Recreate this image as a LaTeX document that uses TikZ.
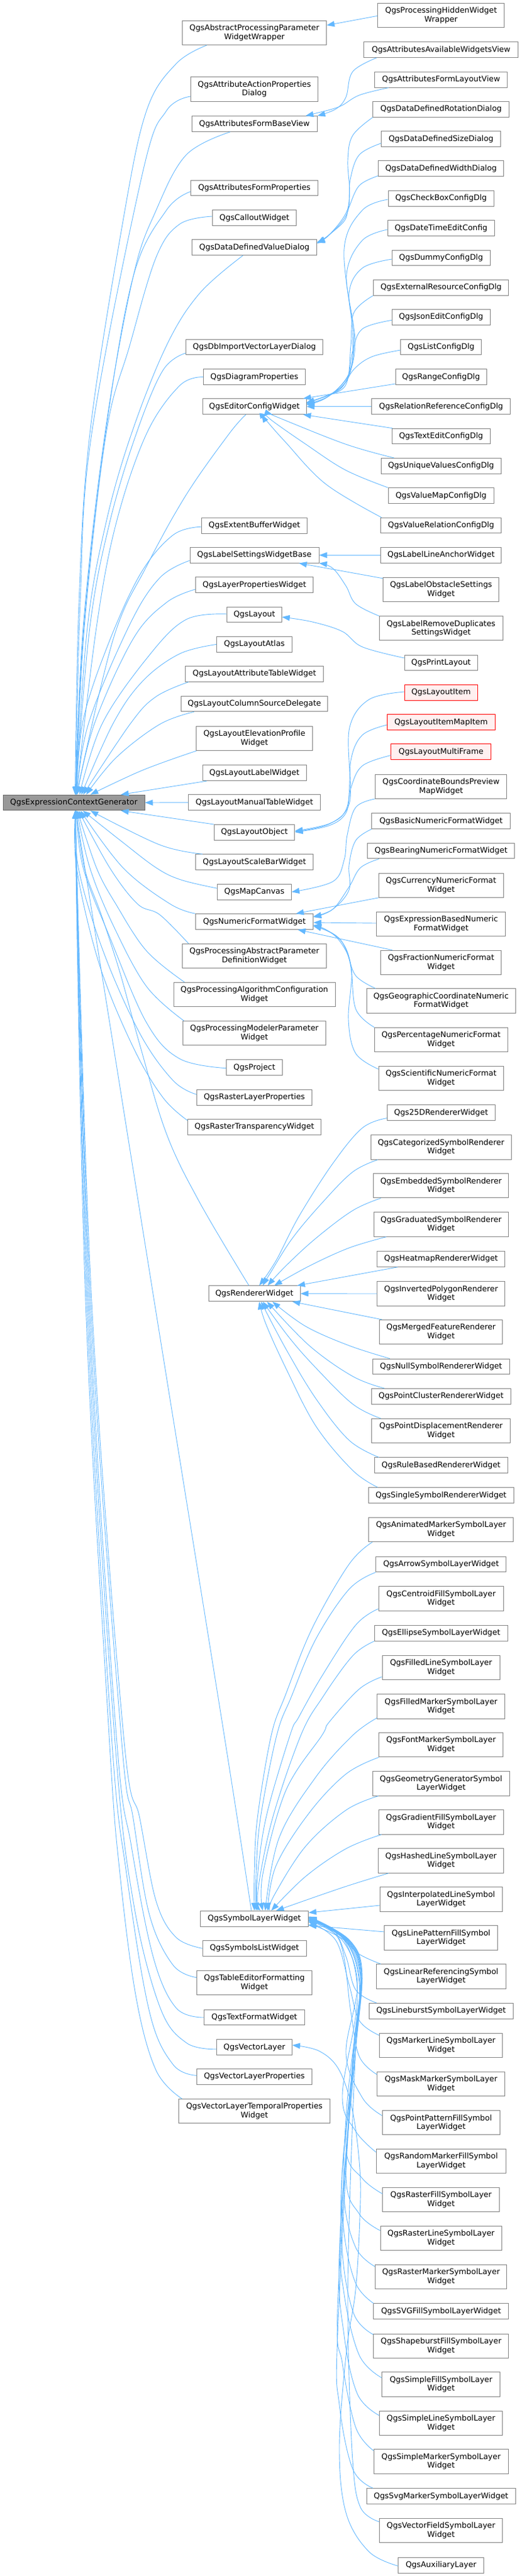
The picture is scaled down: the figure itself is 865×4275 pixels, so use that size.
\documentclass[tikz,border=0pt]{standalone}
\usepackage{fontspec}
\setmainfont{DejaVu Sans}
\usetikzlibrary{arrows.meta}
\definecolor{lnkc}{HTML}{63B8FF}
\definecolor{brd}{HTML}{808080}
\tikzset{
  bx/.style={draw=brd,line width=1pt,fill=white,rectangle,inner sep=0pt,align=center,font=\fontsize{12.9}{14.7}\selectfont},
  sgl/.style={bx,minimum height=25.7pt},
  dbl/.style={bx,minimum height=40.3pt},
  lnk/.style={draw=lnkc,line width=0.9pt,-{Triangle[length=13pt,width=9.5pt,fill=lnkc]}},
}
\newcommand{\Ms}[4]{\node[sgl,minimum width=#3pt] (#1) at (422,#2) {#4};}
\newcommand{\Md}[4]{\node[dbl,minimum width=#3pt] (#1) at (422,#2) {#4};}
\newcommand{\Rs}[4]{\node[sgl,minimum width=#3pt] (#1) at (731.7,#2) {#4};}
\newcommand{\Rd}[4]{\node[dbl,minimum width=#3pt] (#1) at (731.7,#2) {#4};}
\newcommand{\Ed}[1]{\draw[lnk] plot[smooth,tension=0.6] coordinates {#1};}
\begin{document}
\begin{tikzpicture}[x=1pt,y=-1pt]
\path[use as bounding box,fill=white] (0,0) rectangle (865,4275);
\node[sgl,draw=black!60,fill=black!40,minimum width=235pt] (root) at (122.5,1332) {QgsExpressionContextGenerator};
% middle column
\Md{abs}{54.4}{239}{QgsAbstractProcessingParameter\\WidgetWrapper}
\Md{act}{148}{211}{QgsAttributeActionProperties\\Dialog}
\Ms{fbv}{205.5}{208}{QgsAttributesFormBaseView}
\Ms{fpr}{312}{211}{QgsAttributesFormProperties}
\Ms{cal}{361.6}{139}{QgsCalloutWidget}
\Ms{ddv}{410.7}{207}{QgsDataDefinedValueDialog}
\Ms{dbi}{576}{227}{QgsDbImportVectorLayerDialog}
\Ms{dia}{625.6}{169}{QgsDiagramProperties}
\Ms{edc}{674.7}{172}{QgsEditorConfigWidget}
\Ms{ext}{872.2}{175}{QgsExtentBufferWidget}
\Ms{lab}{921.3}{214}{QgsLabelSettingsWidgetBase}
\Ms{lpw}{970.5}{195}{QgsLayerPropertiesWidget}
\Ms{lay}{1020}{90.5}{QgsLayout}
\Ms{atl}{1069.4}{124.7}{QgsLayoutAtlas}
\Ms{att}{1118.3}{228.4}{QgsLayoutAttributeTableWidget}
\Ms{col}{1167.9}{243.8}{QgsLayoutColumnSourceDelegate}
\Md{ele}{1225.3}{193.6}{QgsLayoutElevationProfile\\Widget}
\Ms{llw}{1282.7}{172}{QgsLayoutLabelWidget}
\Ms{man}{1331.8}{218.4}{QgsLayoutManualTableWidget}
\Ms{obj}{1381.4}{133.5}{QgsLayoutObject}
\Ms{sca}{1430.6}{195}{QgsLayoutScaleBarWidget}
\Ms{can}{1480.2}{122.5}{QgsMapCanvas}
\Ms{num}{1529.5}{195}{QgsNumericFormatWidget}
\Md{pab}{1586.7}{239}{QgsProcessingAbstractParameter\\DefinitionWidget}
\Md{pal}{1650.5}{268}{QgsProcessingAlgorithmConfiguration\\Widget}
\Md{pmo}{1714.6}{237.7}{QgsProcessingModelerParameter\\Widget}
\Ms{prj}{1771.7}{92.7}{QgsProject}
\Ms{rlp}{1821.3}{190.8}{QgsRasterLayerProperties}
\Ms{rtw}{1870.4}{221}{QgsRasterTransparencyWidget}
\Ms{ren}{2146.8}{152}{QgsRendererWidget}
\Ms{sym}{3184.2}{178.7}{QgsSymbolLayerWidget}
\Ms{sls}{3233.3}{172}{QgsSymbolsListWidget}
\Md{tef}{3290.7}{190.8}{QgsTableEditorFormatting\\Widget}
\Ms{tfw}{3348}{166.6}{QgsTextFormatWidget}
\Ms{vly}{3397.7}{124.7}{QgsVectorLayer}
\Ms{vlp}{3446.3}{190.8}{QgsVectorLayerProperties}
\Md{vlt}{3503.7}{250.4}{QgsVectorLayerTemporalProperties\\Widget}
% right column
\Rd{phw}{25.3}{210}{QgsProcessingHiddenWidget\\Wrapper}
\Rs{aav}{82.6}{256}{QgsAttributesAvailableWidgetsView}
\Rs{afl}{132.2}{219.5}{QgsAttributesFormLayoutView}
\Rs{ddr}{181.4}{225.6}{QgsDataDefinedRotationDialog}
\Rs{dds}{230.7}{197.5}{QgsDataDefinedSizeDialog}
\Rs{ddw}{279.8}{208}{QgsDataDefinedWidthDialog}
\Rs{chk}{329.4}{175}{QgsCheckBoxConfigDlg}
\Rs{dte}{378.6}{177}{QgsDateTimeEditConfig}
\Rs{dum}{428.1}{163}{QgsDummyConfigDlg}
\Rs{exr}{477.3}{224.5}{QgsExternalResourceConfigDlg}
\Rs{jsn}{526.4}{163}{QgsJsonEditConfigDlg}
\Rs{lst}{576}{133.5}{QgsListConfigDlg}
\Rs{rng}{625.6}{151}{QgsRangeConfigDlg}
\Rs{rel}{674.7}{230}{QgsRelationReferenceConfigDlg}
\Rs{txt}{724}{163}{QgsTextEditConfigDlg}
\Rs{unq}{773.3}{198.6}{QgsUniqueValuesConfigDlg}
\Rs{vmp}{822.6}{175}{QgsValueMapConfigDlg}
\Rs{vrl}{872}{199.7}{QgsValueRelationConfigDlg}
\Rs{lla}{921.3}{199.7}{QgsLabelLineAnchorWidget}
\Rd{los}{978.5}{192}{QgsLabelObstacleSettings\\Widget}
\Rd{lrd}{1042.8}{205}{QgsLabelRemoveDuplicates\\SettingsWidget}
\Rs{prl}{1100}{121}{QgsPrintLayout}
\node[sgl,draw=red,fill=red!6,minimum width=121pt] (itm) at (731.7,1149.5) {QgsLayoutItem};
\node[sgl,draw=red,fill=red!6,minimum width=178.7pt] (imi) at (731.7,1198.6) {QgsLayoutItemMapItem};
\node[sgl,draw=red,fill=red!6,minimum width=165.5pt] (mfr) at (731.7,1247.8) {QgsLayoutMultiFrame};
\Rd{cbp}{1305.2}{218.4}{QgsCoordinateBoundsPreview\\MapWidget}
\Rs{bas}{1362.6}{229.5}{QgsBasicNumericFormatWidget}
\Rs{bea}{1412.1}{244}{QgsBearingNumericFormatWidget}
\Rd{cur}{1469.2}{207}{QgsCurrencyNumericFormat\\Widget}
\Rd{exb}{1533.4}{214}{QgsExpressionBasedNumeric\\FormatWidget}
\Rd{fra}{1597.3}{199.7}{QgsFractionNumericFormat\\Widget}
\Rd{geo}{1661}{247}{QgsGeographicCoordinateNumeric\\FormatWidget}
\Rd{pct}{1725.4}{220.6}{QgsPercentageNumericFormat\\Widget}
\Rd{sci}{1789.2}{207}{QgsScientificNumericFormat\\Widget}
\Rs{r25}{1846.6}{178.7}{Qgs25DRendererWidget}
\Rd{cat}{1904}{232.8}{QgsCategorizedSymbolRenderer\\Widget}
\Rd{emb}{1967.8}{224}{QgsEmbeddedSymbolRenderer\\Widget}
\Rd{gra}{2032}{222.8}{QgsGraduatedSymbolRenderer\\Widget}
\Rs{hea}{2089.4}{211.8}{QgsHeatmapRendererWidget}
\Rd{inv}{2147}{211.8}{QgsInvertedPolygonRenderer\\Widget}
\Rd{mer}{2210.5}{204}{QgsMergedFeatureRenderer\\Widget}
\Rs{nul}{2267.9}{227}{QgsNullSymbolRendererWidget}
\Rs{clu}{2317.3}{230.6}{QgsPointClusterRendererWidget}
\Rd{dis}{2374.6}{229.5}{QgsPointDisplacementRenderer\\Widget}
\Rs{rul}{2431.8}{220.6}{QgsRuleBasedRendererWidget}
\Rs{sin}{2481.6}{241}{QgsSingleSymbolRendererWidget}
\Rd{ani}{2538.6}{240.5}{QgsAnimatedMarkerSymbolLayer\\Widget}
\Rs{arw}{2596}{216}{QgsArrowSymbolLayerWidget}
\Rd{cen}{2652.9}{207}{QgsCentroidFillSymbolLayer\\Widget}
\Rs{ell}{2710.3}{220.6}{QgsEllipseSymbolLayerWidget}
\Rd{fil}{2767.7}{195}{QgsFilledLineSymbolLayer\\Widget}
\Rd{fim}{2832}{211.8}{QgsFilledMarkerSymbolLayer\\Widget}
\Rd{fon}{2895.7}{205.7}{QgsFontMarkerSymbolLayer\\Widget}
\Rd{gen}{2959.9}{227}{QgsGeometryGeneratorSymbol\\LayerWidget}
\Rd{grd}{3023.9}{207}{QgsGradientFillSymbolLayer\\Widget}
\Rd{has}{3088}{208}{QgsHashedLineSymbolLayer\\Widget}
\Rd{int}{3152}{203}{QgsInterpolatedLineSymbol\\LayerWidget}
\Rd{lpf}{3215.9}{188}{QgsLinePatternFillSymbol\\LayerWidget}
\Rd{lrf}{3279.9}{215}{QgsLinearReferencingSymbol\\LayerWidget}
\Rs{lbu}{3337.3}{239.4}{QgsLineburstSymbolLayerWidget}
\Rd{mkl}{3394.7}{204}{QgsMarkerLineSymbolLayer\\Widget}
\Rd{msk}{3458.7}{211.8}{QgsMaskMarkerSymbolLayer\\Widget}
\Rd{ppf}{3522.8}{195}{QgsPointPatternFillSymbol\\LayerWidget}
\Rd{rmf}{3586.5}{215}{QgsRandomMarkerFillSymbol\\LayerWidget}
\Rd{rfl}{3650.7}{193.6}{QgsRasterFillSymbolLayer\\Widget}
\Rd{rln}{3714.6}{201.3}{QgsRasterLineSymbolLayer\\Widget}
\Rd{rmk}{3778.4}{218.4}{QgsRasterMarkerSymbolLayer\\Widget}
\Rs{svf}{3835.8}{224}{QgsSVGFillSymbolLayerWidget}
\Rd{shp}{3893.2}{224}{QgsShapeburstFillSymbolLayer\\Widget}
\Rd{sfl}{3957}{196}{QgsSimpleFillSymbolLayer\\Widget}
\Rd{sln}{4021.3}{204}{QgsSimpleLineSymbolLayer\\Widget}
\Rd{smk}{4085}{222.8}{QgsSimpleMarkerSymbolLayer\\Widget}
\Rs{svm}{4142.5}{247}{QgsSvgMarkerSymbolLayerWidget}
\Rd{vfd}{4199.6}{204}{QgsVectorFieldSymbolLayer\\Widget}
\Rs{aux}{4257.3}{141.8}{QgsAuxiliaryLayer}
% edges into root, from above
\Ed{([xshift=-79pt]abs.south) (292,106) (243,184) (204,367) (149,720) (131,1000) ([xshift=2pt]root.north)}
\Ed{([yshift=-12pt]act.west) (276,184) (237,285) (152,720) (133,1000) ([xshift=3pt]root.north)}
\Ed{([xshift=-40pt]fbv.south) (309,257) (259,349) (221,459) (174,720) (138,1041) ([xshift=3pt]root.north)}
\Ed{([yshift=-6pt]fpr.west) (276,349) (221,459) (175,720) (139,1041) ([xshift=3.5pt]root.north)}
\Ed{([yshift=2.6pt]cal.west) (298,372) (259,427) (215,574) (176,720) (140,1041) ([xshift=3.5pt]root.north)}
\Ed{([xshift=-19pt]ddv.south) (331,487) (276,574) (218,720) (176,867) (145,1041) ([xshift=3pt]root.north)}
\Ed{([yshift=-10pt]dbi.west) (270,615) (226,720) (182,867) (149,1041) ([xshift=3pt]root.north)}
\Ed{(dia.west) (298,640) (243,720) (193,867) (160,1041) ([xshift=4pt]root.north)}
\Ed{([xshift=-14pt]edc.south) (380,720) (309,821) (243,940) (188,1060) ([xshift=4.5pt]root.north)}
\Ed{([yshift=-2pt]ext.west) (287,888) (232,954) (176,1078) (137,1200) ([xshift=4.5pt]root.north)}
\Ed{([yshift=-9pt]lab.west) (265,959) (215,1037) (147,1200) ([xshift=5pt]root.north)}
\Ed{([yshift=-7.5pt]lpw.west) (276,1000) (221,1060) (157,1200) ([xshift=5.5pt]root.north)}
\Ed{([yshift=1pt]lay.west) (309,1028) (248,1087) (170,1200) ([xshift=9.5pt]root.north)}
\Ed{(atl.west) (298,1085) (237,1130) (188,1200) ([xshift=12.5pt]root.north)}
\Ed{([xshift=-109pt]att.south) (259,1156) (217,1200) ([xshift=15.5pt]root.north)}
\Ed{([xshift=-100pt]col.south) (265,1202) (193,1257) ([xshift=20.5pt]root.north)}
\Ed{([xshift=-96pt]ele.south) (237,1278) ([xshift=27.5pt]root.north)}
\draw[lnk] ([xshift=-79pt]llw.south) -- ([xshift=78pt]root.north);
\draw[lnk] (man.west) -- (root.east);
% edges into root, from below
\draw[lnk] ([xshift=-67pt]obj.north) -- ([xshift=78pt]root.south);
\Ed{([xshift=-86pt]sca.north) (265,1402) ([xshift=27.5pt]root.south)}
\Ed{([yshift=6pt]can.west) (300,1460) (259,1440) (200,1395) ([xshift=15pt]root.south)}
\Ed{(num.north west) (282,1500) (204,1440) ([xshift=11pt]root.south)}
\Ed{([xshift=-109pt]pab.north) (265,1518) (228,1500) (182,1440) ([xshift=8pt]root.south)}
\Ed{([xshift=-116pt]pal.north) (243,1578) (192,1500) (160,1440) ([xshift=6pt]root.south)}
\Ed{([xshift=-117pt]pmo.north) (243,1637) (188,1536) (149,1440) ([xshift=5pt]root.south)}
\Ed{([yshift=-1pt]prj.west) (298,1757) (243,1697) (182,1555) (138,1440) ([xshift=4pt]root.south)}
\Ed{([yshift=5pt]rlp.west) (287,1793) (232,1715) (171,1578) (130,1440) ([xshift=3pt]root.south)}
\Ed{([yshift=11pt]rtw.west) (270,1821) (221,1738) (165,1601) (127,1440) ([xshift=3pt]root.south)}
\Ed{([xshift=-9pt]ren.north) (331,1995) (276,1881) (232,1734) (199,1614) (168,1518) (140,1440) ([xshift=4pt]root.south)}
\Ed{([xshift=-5pt]sym.north) (372,2880) (256,2160) (179,1679) ([xshift=3pt]root.south)}
\Ed{(sls.west) (292,3215) (259,3155) (232,3018) (205,2880) (152,2160) ([xshift=2.5pt]root.south)}
\Ed{([yshift=9pt]tef.west) (287,3261) (248,3178) (221,3018) (201,2880) (150,2160) ([xshift=2.5pt]root.south)}
\Ed{(tfw.west) (292,3332) (254,3247) (218,3064) (193,2880) (148,2160) ([xshift=2pt]root.south)}
\Ed{([yshift=-3pt]vly.west) (309,3390) (265,3330) (221,3155) (190,2880) (146,2160) ([xshift=2pt]root.south)}
\Ed{([yshift=2pt]vlp.west) (287,3426) (248,3339) (210,3110) (185,2880) (144,2160) ([xshift=2pt]root.south)}
\Ed{([xshift=-120pt]vlt.north) (259,3436) (226,3316) (199,3110) (181,2880) (142,2160) ([xshift=2pt]root.south)}
% form / wrapper
\draw[lnk] ([yshift=-1pt]phw.west) -- ([yshift=12.4pt]abs.east);
\Ed{([xshift=-107pt]aav.south) (585,119) (574,161) (557,181) (fbv.north east)}
\Ed{([xshift=-87pt]afl.south) (596,158) (563,177) (524,188) ([xshift=85pt]fbv.north)}
% data defined
\Ed{(ddr.south west) (585,225) (577,266) (580,321) (574,358) (546,390) ([yshift=8.7pt]ddv.east)}
\Ed{([yshift=-7pt]dds.west) (596,257) (581,298) (576,349) (546,390) ([yshift=7.7pt]ddv.east)}
\Ed{([yshift=-12pt]ddw.west) (596,308) (579,344) (571,367) (543,392) ([yshift=6.7pt]ddv.east)}
% editor config
\Ed{([yshift=-1.6pt]chk.west) (601,349) (571,413) (585,551) (579,620) (543,659) ([yshift=2.7pt]edc.east)}
\Ed{([yshift=-2.4pt]dte.west) (601,399) (575,455) (587,551) (579,624) (546,657) ([yshift=3.7pt]edc.east)}
\Ed{([yshift=-2pt]dum.west) (601,445) (579,487) (589,565) (579,620) (546,657) ([yshift=4.7pt]edc.east)}
\Ed{(exr.south west) (587,519) (582,574) (574,638) (541,657) ([yshift=5.7pt]edc.east)}
\Ed{([yshift=-5pt]jsn.west) (601,546) (585,583) (576,629) (552,652) ([yshift=6.7pt]edc.east)}
\Ed{([yshift=-5pt]lst.west) (617,592) (587,613) (563,647) (520,665) ([yshift=7.7pt]edc.east)}
\draw[lnk] ([yshift=-11.4pt]rng.west) -- ([xshift=81pt]edc.north);
\draw[lnk] (rel.west) -- (edc.east);
\draw[lnk] ([xshift=-80.7pt]txt.north) -- ([xshift=81pt]edc.south);
\Ed{([xshift=-78pt]unq.north) (573,737) (462,693) ([xshift=30pt]edc.south)}
\Ed{([xshift=-88pt]vmp.north) (573,780) (507,737) (450,697) ([xshift=22pt]edc.south)}
\Ed{([xshift=-99pt]vrl.north) (540,803) (473,733) (442,698) ([xshift=12pt]edc.south)}
% label settings
\draw[lnk] (lla.west) -- (lab.east);
\draw[lnk] ([yshift=-2pt]los.north west) -- ([xshift=74pt]lab.south);
\Ed{(lrd.north west) (590,1002) (574,972.5) (552,943) (lab.south east)}
% layout
\Ed{([yshift=8pt]prl.west) (601,1073.5) (568,1048) (518,1032) ([yshift=-4pt]lay.east)}
\Ed{([yshift=1.5pt]itm.west) (612,1161) (580,1207) (580,1294) (574,1344) (546,1367) ([yshift=2.4pt]obj.east)}
\Ed{([yshift=-4.4pt]imi.west) (601,1220) (582,1262) (579,1335) (546,1367.5) ([yshift=1.4pt]obj.east)}
\Ed{([yshift=-5.7pt]mfr.west) (601,1271) (582,1308) (574,1349) (546,1370) ([yshift=0.4pt]obj.east)}
\Ed{(cbp.south west) (590,1340) (576,1386) (571,1427) (552,1463) (can.east)}
% numeric format
\Ed{(bas.south west) (590,1395) (579,1436) (579,1477) (552,1509) ([yshift=8.5pt]num.east)}
\Ed{([xshift=-103pt]bea.south) (598,1440) (579,1472) (552,1509) ([yshift=7.5pt]num.east)}
\draw[lnk] (cur.south west) -- ([xshift=69pt]num.north);
\draw[lnk] ([yshift=1.4pt]exb.west) -- ([yshift=-1.5pt]num.east);
\draw[lnk] ([xshift=-81pt]fra.north) -- ([xshift=72pt]num.south);
\Ed{([xshift=-108.7pt]geo.north) (590,1619) (574,1578) (552,1550) ([yshift=-7.5pt]num.east)}
\Ed{(pct.north west) (590,1674) (582,1601) (568,1564) (541,1543) ([yshift=-6.5pt]num.east)}
\Ed{([yshift=15pt]sci.west) (590,1748) (578,1692) (583,1614) (568,1564) (541,1543) ([yshift=-5.5pt]num.east)}
% renderer
\Ed{([yshift=-9pt]r25.west) (601,1872) (552,1931) (496,2018.5) (458,2092) ([xshift=8pt]ren.north)}
\Ed{([xshift=-105pt]cat.south) (585,1945) (535,1995.5) (485,2055) (447,2115) ([xshift=14pt]ren.north)}
\Ed{([xshift=-100pt]emb.south) (585,2009) (524,2055) (474,2101) ([xshift=22pt]ren.north)}
\Ed{([xshift=-91pt]gra.south) (579,2071) (513,2101) ([xshift=33pt]ren.north)}
\draw[lnk] ([xshift=-72pt]hea.south) -- ([xshift=71pt]ren.north);
\draw[lnk] (inv.west) -- (ren.east);
\draw[lnk] ([xshift=-98pt]mer.north) -- ([xshift=63pt]ren.south);
\Ed{([xshift=-85pt]nul.north) (579,2233) (507,2201) ([xshift=30pt]ren.south)}
\Ed{([xshift=-94pt]clu.north) (585,2284) (513,2233) ([xshift=21pt]ren.south)}
\Ed{([xshift=-100pt]dis.north) (585,2330) (524,2270) (480,2220) ([xshift=14pt]ren.south)}
\Ed{([xshift=-103pt]rul.north) (579,2390) (524,2321) (474,2238) ([xshift=11pt]ren.south)}
\Ed{([xshift=-105pt]sin.north) (585,2440) (524,2366.6) (474,2270) (441,2197) ([xshift=8pt]ren.south)}
% symbol layer from above
\Ed{([xshift=-114pt]ani.south) (579,2596) (518,2702) (474,2812) (450,2880) (427,3018) (422,3110) (sym.north)}
\Ed{(arw.south west) (579,2637.5) (524,2720) (483,2816.6) (459,2880) (432,3018) (425,3110) ([xshift=3pt]sym.north)}
\Ed{([yshift=-17pt]cen.west) (590,2697) (535,2780) (496,2849) (481,2880) (441,3018) (426,3128) ([xshift=6pt]sym.north)}
\Ed{(ell.south west) (585,2748) (535,2817) (499,2880) (452,3018) (428,3137) ([xshift=10pt]sym.north)}
\Ed{([yshift=-15pt]fil.west) (596,2803) (546,2858) (534,2880) (474,2972) (436,3110) ([xshift=14pt]sym.north)}
\Ed{([yshift=-19pt]fim.west) (585,2880) (524,2949) (463,3050) ([xshift=18pt]sym.north)}
\Ed{(fon.south west) (574,2944) (513,3008.5) (458,3096) ([xshift=22pt]sym.north)}
\Ed{([xshift=-104pt]gen.south) (574,3004) (507,3064) (455,3145) ([xshift=25pt]sym.north)}
\Ed{([xshift=-99pt]grd.south) (574,3068) (507,3114) ([xshift=28pt]sym.north)}
\Ed{([xshift=-87pt]has.south) (568,3132.5) ([xshift=36pt]sym.north)}
\draw[lnk] ([yshift=-10pt]int.west) -- ([yshift=10pt]sym.east);
\draw[lnk] ([yshift=10pt]lpf.west) -- ([yshift=-11pt]sym.east);
\Ed{([xshift=-100pt]lrf.north) (596,3243) (568,3217.5) (530,3199) ([yshift=-10pt]sym.east)}
\Ed{([xshift=-107pt]lbu.north) (590,3302) (574,3247) (552,3201) ([yshift=-6pt]sym.east)}
\Ed{([yshift=17pt]mkl.west) (596,3353) (579,3293) (557,3220) ([yshift=-5pt]sym.east)}
\Ed{([yshift=16pt]msk.west) (596,3412.6) (582,3339) (563,3220) ([yshift=-4pt]sym.east)}
\Ed{([yshift=12pt]ppf.west) (601,3481) (574,3408) (593,3293) (568,3220) ([yshift=-3pt]sym.east)}
\Ed{([yshift=15pt]rmf.west) (590,3536.6) (568,3477) (593,3316) (571,3220) ([yshift=-2pt]sym.east)}
\Ed{([yshift=10pt]rfl.west) (601,3615) (574,3564) (588,3400) (596,3290) (572,3220) ([yshift=-1pt]sym.east)}
\Ed{([yshift=13pt]rln.west) (596,3674) (574,3610) (590,3400) (597,3290) (573,3220) ([yshift=-0.3pt]sym.east)}
\Ed{([yshift=17pt]rmk.west) (590,3729.5) (571,3647) (575,3500) (592,3350) (598,3280) (574,3220) (sym.east)}
\Ed{([xshift=-112pt]svf.north) (590,3789) (571,3706.5) (568,3601) (588,3400) (598,3280) (575,3220) ([yshift=0.7pt]sym.east)}
\Ed{([yshift=19pt]shp.west) (587,3840) (568,3739) (568,3600) (590,3400) (599,3280) (576,3220) ([yshift=1.2pt]sym.east)}
\Ed{([yshift=11pt]sfl.west) (596,3908.5) (571,3807.5) (565,3693) (590,3400) (600,3280) (577,3220) ([yshift=1.7pt]sym.east)}
\Ed{([yshift=12.7pt]sln.west) (593,3973) (571,3876) (563,3739) (588,3400) (600,3280) (578,3220) ([yshift=2.2pt]sym.east)}
\Ed{([yshift=18pt]smk.west) (590,4028) (568,3922) (560,3830.5) (585,3420) (600,3280) (579,3220) ([yshift=2.7pt]sym.east)}
\Ed{([xshift=-113pt]svm.north) (585,4097) (563,3991) (560,3876) (585,3420) (601,3280) (580,3220) ([yshift=3.2pt]sym.east)}
\Ed{([yshift=14.6pt]vfd.west) (598,4161) (585,4083) (577.5,3876) (579,3693) (590,3400) (600,3280) (580,3220) ([yshift=3.7pt]sym.east)}
\Ed{([yshift=-1pt]aux.west) (612,4234.5) (574,4170) (563,4060) (575,3900) (590,3800) (597,3680) (597,3600) (585,3504) (563,3436) (530,3404) ([yshift=3.7pt]vly.east)}
\end{tikzpicture}
\end{document}
